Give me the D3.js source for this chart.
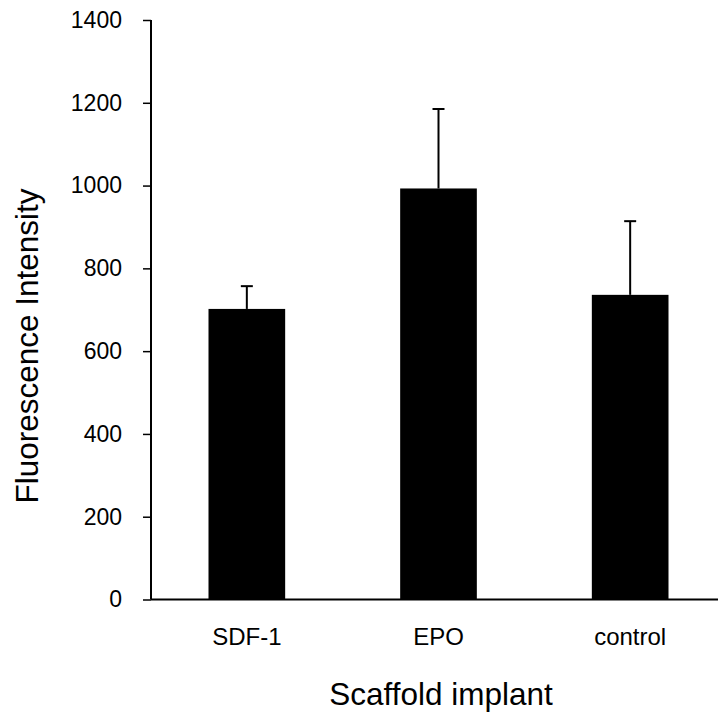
<!DOCTYPE html>
<html><head><meta charset="utf-8">
<script src="https://cdn.jsdelivr.net/npm/d3@7"></script>
<style>body{margin:0;background:#fff}svg{display:block}text{font-family:"Liberation Sans",Arial,sans-serif;fill:#000}</style>
</head><body>
<script>
const categories = ["SDF-1", "EPO", "control"];
const means = [702, 993, 736];
const errorTops = [757, 1185, 914];
const yTicks = [0, 200, 400, 600, 800, 1000, 1200, 1400];
const xTitle = "Scaffold implant";
const yTitle = "Fluorescence Intensity";

const W = 718, H = 719;
const svg = d3.select("body").append("svg").attr("width", W).attr("height", H);
const x = d3.scaleBand().domain(categories).range([151, 726]).paddingInner(0.6).paddingOuter(0.3);
const y = d3.scaleLinear().domain([0, 1400]).range([599.5, 20]);

const yAxis = svg.append("g").attr("transform", "translate(151,0)")
  .call(d3.axisLeft(y).tickValues(yTicks).tickSize(8).tickPadding(21).tickFormat(d3.format("d")));
yAxis.select(".domain").attr("stroke", "#000").attr("stroke-width", 2).attr("d", `M0,${y(1400)}V${y(0)}`);
yAxis.selectAll(".tick line").attr("stroke", "#000").attr("stroke-width", 1.5);
yAxis.selectAll(".tick text").attr("font-size", 23).attr("font-family", "Liberation Sans, Arial, sans-serif");

svg.append("g").selectAll("rect").data(categories).join("rect")
  .attr("x", d => x(d)).attr("width", x.bandwidth())
  .attr("y", (d, i) => y(means[i])).attr("height", (d, i) => y(0) - y(means[i]))
  .attr("fill", "#000");

const eb = svg.append("g").attr("stroke", "#000").attr("stroke-width", 2);
categories.forEach((c, i) => {
  const cx = x(c) + x.bandwidth() / 2;
  eb.append("line").attr("x1", cx).attr("x2", cx).attr("y1", y(means[i])).attr("y2", y(errorTops[i]));
  eb.append("line").attr("x1", cx - 6).attr("x2", cx + 6).attr("y1", y(errorTops[i])).attr("y2", y(errorTops[i]));
});

const xAxis = svg.append("g").attr("transform", `translate(0,${y(0)})`)
  .call(d3.axisBottom(x).tickSize(0).tickPadding(28.5));
xAxis.select(".domain").attr("stroke", "#000").attr("stroke-width", 2).attr("d", `M151,0H${W}`);
xAxis.selectAll(".tick text").attr("font-size", 24).attr("font-family", "Liberation Sans, Arial, sans-serif");

svg.append("text").attr("x", 441).attr("y", 705).attr("text-anchor", "middle").attr("font-size", 31.5).text(xTitle);
svg.append("text").attr("transform", "translate(38,346) rotate(-90)").attr("text-anchor", "middle").attr("font-size", 31.5).text(yTitle);
</script>
</body></html>
